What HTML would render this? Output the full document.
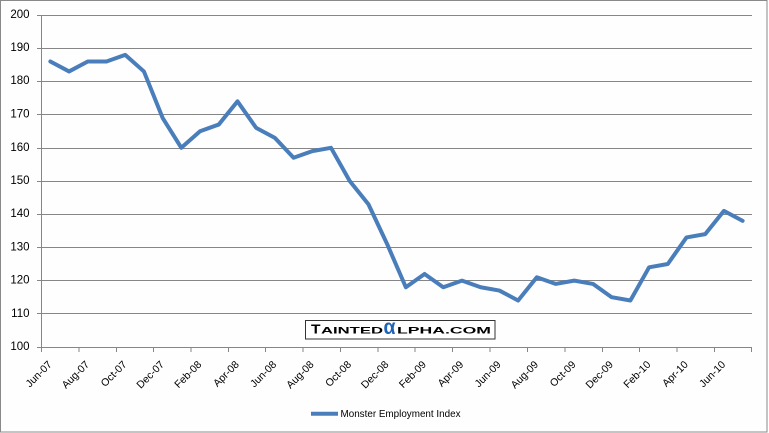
<!DOCTYPE html>
<html><head><meta charset="utf-8"><style>
html,body{margin:0;padding:0;background:#fff;}
svg{display:block;}
text{font-family:"Liberation Sans",Tahoma,sans-serif;fill:#000;}
</style></head><body>
<svg width="769" height="433" viewBox="0 0 769 433" xmlns="http://www.w3.org/2000/svg">
<rect x="0" y="0" width="769" height="433" fill="#fff"/>
<rect x="0.5" y="0.5" width="766.5" height="431.5" fill="#fefefe" stroke="#898989" stroke-width="1"/>
<g stroke="#868686" stroke-width="1" shape-rendering="crispEdges">
<line x1="37" y1="15.5" x2="752" y2="15.5"/>
<line x1="37" y1="48.5" x2="752" y2="48.5"/>
<line x1="37" y1="81.5" x2="752" y2="81.5"/>
<line x1="37" y1="114.5" x2="752" y2="114.5"/>
<line x1="37" y1="148.5" x2="752" y2="148.5"/>
<line x1="37" y1="181.5" x2="752" y2="181.5"/>
<line x1="37" y1="214.5" x2="752" y2="214.5"/>
<line x1="37" y1="247.5" x2="752" y2="247.5"/>
<line x1="37" y1="280.5" x2="752" y2="280.5"/>
<line x1="37" y1="313.5" x2="752" y2="313.5"/>
<line x1="37" y1="347.5" x2="752" y2="347.5"/>
<line x1="41.5" y1="15" x2="41.5" y2="352"/>
<line x1="78.9" y1="347" x2="78.9" y2="352"/>
<line x1="116.3" y1="347" x2="116.3" y2="352"/>
<line x1="153.3" y1="347" x2="153.3" y2="352"/>
<line x1="190.8" y1="347" x2="190.8" y2="352"/>
<line x1="228.5" y1="347" x2="228.5" y2="352"/>
<line x1="265.6" y1="347" x2="265.6" y2="352"/>
<line x1="303" y1="347" x2="303" y2="352"/>
<line x1="340.4" y1="347" x2="340.4" y2="352"/>
<line x1="377.8" y1="347" x2="377.8" y2="352"/>
<line x1="415.2" y1="347" x2="415.2" y2="352"/>
<line x1="452.6" y1="347" x2="452.6" y2="352"/>
<line x1="490" y1="347" x2="490" y2="352"/>
<line x1="527.5" y1="347" x2="527.5" y2="352"/>
<line x1="564.9" y1="347" x2="564.9" y2="352"/>
<line x1="602.3" y1="347" x2="602.3" y2="352"/>
<line x1="639.7" y1="347" x2="639.7" y2="352"/>
<line x1="677.1" y1="347" x2="677.1" y2="352"/>
<line x1="714.5" y1="347" x2="714.5" y2="352"/>
<line x1="751.5" y1="347" x2="751.5" y2="352"/>
</g>
<g font-size="11.5" text-anchor="end" dominant-baseline="central">
<text x="29.5" y="15">200</text>
<text x="29.5" y="48">190</text>
<text x="29.5" y="81">180</text>
<text x="29.5" y="114.6">170</text>
<text x="29.5" y="147.8">160</text>
<text x="29.5" y="181">150</text>
<text x="29.5" y="214.2">140</text>
<text x="29.5" y="247.4">130</text>
<text x="29.5" y="280.6">120</text>
<text x="29.5" y="313.8">110</text>
<text x="29.5" y="347">100</text>
</g>
<g font-size="10.5" text-anchor="end" dominant-baseline="central">
<text transform="translate(50.4,363) rotate(-45)">Jun-07</text>
<text transform="translate(87.8,363) rotate(-45)">Aug-07</text>
<text transform="translate(125.2,363) rotate(-45)">Oct-07</text>
<text transform="translate(162.6,363) rotate(-45)">Dec-07</text>
<text transform="translate(200.0,363) rotate(-45)">Feb-08</text>
<text transform="translate(237.5,363) rotate(-45)">Apr-08</text>
<text transform="translate(274.9,363) rotate(-45)">Jun-08</text>
<text transform="translate(312.3,363) rotate(-45)">Aug-08</text>
<text transform="translate(349.7,363) rotate(-45)">Oct-08</text>
<text transform="translate(387.1,363) rotate(-45)">Dec-08</text>
<text transform="translate(424.6,363) rotate(-45)">Feb-09</text>
<text transform="translate(462.0,363) rotate(-45)">Apr-09</text>
<text transform="translate(499.4,363) rotate(-45)">Jun-09</text>
<text transform="translate(536.8,363) rotate(-45)">Aug-09</text>
<text transform="translate(574.2,363) rotate(-45)">Oct-09</text>
<text transform="translate(611.7,363) rotate(-45)">Dec-09</text>
<text transform="translate(649.1,363) rotate(-45)">Feb-10</text>
<text transform="translate(686.5,363) rotate(-45)">Apr-10</text>
<text transform="translate(723.9,363) rotate(-45)">Jun-10</text>
</g>
<polyline fill="none" stroke="#4a7ebb" stroke-width="4" stroke-linejoin="round" stroke-linecap="round"
points="50.36,61.48 69.07,71.44 87.78,61.48 106.49,61.48 125.20,54.84 143.91,71.44 162.62,117.92 181.33,147.8 200.04,131.2 218.75,124.56 237.46,101.32 256.17,127.88 274.88,137.84 293.59,157.76 312.30,151.12 331.01,147.8 349.72,181 368.43,204.24 387.14,244.08 405.85,287.24 424.56,273.96 443.27,287.24 461.98,280.6 480.69,287.24 499.40,290.56 518.11,300.52 536.82,277.28 555.53,283.92 574.24,280.6 592.95,283.92 611.66,297.2 630.37,300.52 649.08,267.32 667.79,264 686.50,237.44 705.21,234.12 723.92,210.88 742.63,220.84"/>
<rect x="305.5" y="320.5" width="189.5" height="18.5" fill="#fff" stroke="#333" stroke-width="1"/>
<text x="311" y="333.5" font-size="12.5" font-weight="bold" textLength="9.5" lengthAdjust="spacingAndGlyphs">T</text>
<text x="321" y="333.5" font-size="9.5" font-weight="bold" textLength="62" lengthAdjust="spacingAndGlyphs">AINTED</text>
<text x="383.5" y="334" font-size="21" font-weight="bold" fill="#1f63b8" style="fill:#1f63b8" textLength="12" lengthAdjust="spacingAndGlyphs">α</text>
<text x="397" y="333.5" font-size="9.5" font-weight="bold" textLength="94" lengthAdjust="spacingAndGlyphs">LPHA.COM</text>
<line x1="311" y1="413.7" x2="338" y2="413.7" stroke="#4a7ebb" stroke-width="4"/>
<text x="340.5" y="417" font-size="10" textLength="120" lengthAdjust="spacingAndGlyphs">Monster Employment Index</text>
</svg>
</body></html>
